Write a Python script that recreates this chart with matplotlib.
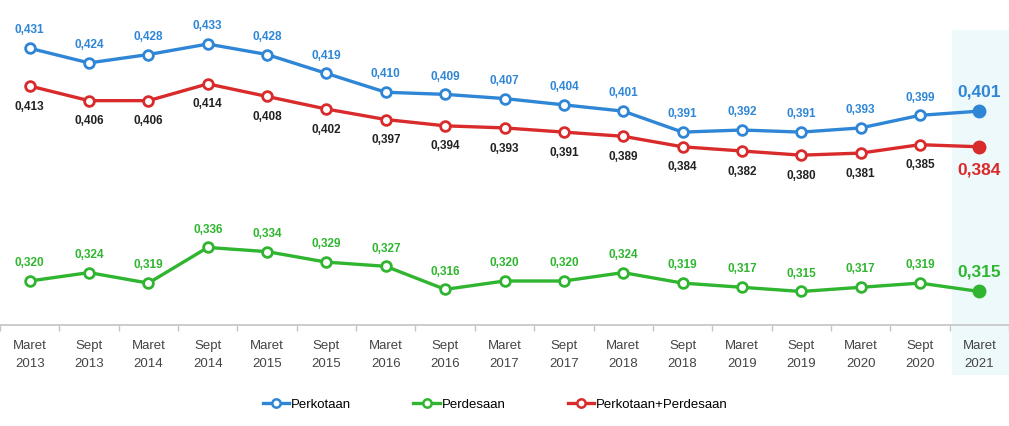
import matplotlib
matplotlib.use("Agg")
import matplotlib.pyplot as plt
from matplotlib.patches import Rectangle
from matplotlib.lines import Line2D

plt.rcParams['font.family'] = ['Liberation Sans', 'DejaVu Sans']

periods = ["Maret\n2013", "Sept\n2013", "Maret\n2014", "Sept\n2014", "Maret\n2015",
           "Sept\n2015", "Maret\n2016", "Sept\n2016", "Maret\n2017", "Sept\n2017",
           "Maret\n2018", "Sept\n2018", "Maret\n2019", "Sept\n2019", "Maret\n2020",
           "Sept\n2020", "Maret\n2021"]
perkotaan = [0.431, 0.424, 0.428, 0.433, 0.428, 0.419, 0.410, 0.409, 0.407,
             0.404, 0.401, 0.391, 0.392, 0.391, 0.393, 0.399, 0.401]
gabungan = [0.413, 0.406, 0.406, 0.414, 0.408, 0.402, 0.397, 0.394, 0.393,
            0.391, 0.389, 0.384, 0.382, 0.380, 0.381, 0.385, 0.384]
perdesaan = [0.320, 0.324, 0.319, 0.336, 0.334, 0.329, 0.327, 0.316, 0.320,
             0.320, 0.324, 0.319, 0.317, 0.315, 0.317, 0.319, 0.315]

BLUE = '#2f86d6'
RED = '#d92b2b'
GREEN = '#2fb52f'

fig = plt.figure(figsize=(10.09, 4.26), dpi=100)
ax = fig.add_axes([0.0, 0.237, 1.0, 0.763])
x = list(range(len(periods)))

# highlight of the latest period
fig.patches.append(Rectangle((0.944, 0.12), 0.056, 0.81, transform=fig.transFigure,
                             facecolor='#edf9fa', edgecolor='none', zorder=-1))

series = [
    (perkotaan, BLUE, BLUE, 1, 'Perkotaan'),
    (perdesaan, GREEN, GREEN, 1, 'Perdesaan'),
    (gabungan, RED, '#222222', -1, 'Perkotaan+Perdesaan'),
]
for vals, col, lab_col, side, name in series:
    ax.plot(x[:-1], vals[:-1], color=col, lw=2.4, marker='o', ms=7,
            mfc='white', mec=col, mew=2, zorder=3)
    ax.plot(x[-2:], vals[-2:], color=col, lw=2.4, zorder=2)
    ax.plot(x[-1], vals[-1], marker='o', ms=9, color=col, zorder=4)
    for i, v in enumerate(vals[:-1]):
        ax.annotate(f"{v:.3f}".replace('.', ','), (i, v),
                    xytext=(0, 8.5 if side > 0 else -10.5),
                    textcoords='offset points', ha='center',
                    va='bottom' if side > 0 else 'top',
                    fontsize=8.5, fontweight='bold', color=lab_col)
    ax.annotate(f"{vals[-1]:.3f}".replace('.', ','), (x[-1], vals[-1]),
                xytext=(0, 8.5 if side > 0 else -11), textcoords='offset points',
                ha='center', va='bottom' if side > 0 else 'top',
                fontsize=12.5, fontweight='bold', color=col)

ax.set_xlim(-0.43, 16.47)
ax.set_ylim(0.299, 0.454)
ax.set_facecolor('none')
for s in ['top', 'right', 'left']:
    ax.spines[s].set_visible(False)
ax.spines['bottom'].set_color('#c4c4c4')
ax.spines['bottom'].set_linewidth(1.2)
ax.set_yticks([])
ax.set_xticks([i + 0.5 for i in range(-1, len(periods))], minor=False)
ax.set_xticklabels([])
ax.tick_params(axis='x', length=4, color='#c4c4c4', width=1)
ax.set_xticks(x, minor=True)
ax.set_xticklabels(periods, minor=True, fontsize=9.5, color='#444444', linespacing=1.6)
ax.tick_params(axis='x', which='minor', length=0, pad=11)

handles = [Line2D([], [], color=c, lw=2.4, marker='o', ms=6, mfc='white', mec=c, mew=1.8)
           for c in (BLUE, GREEN, RED)]
fig.legend(handles, ['Perkotaan', 'Perdesaan', 'Perkotaan+Perdesaan'],
           loc='center', bbox_to_anchor=(0.491, 0.05), ncol=3, frameon=False,
           fontsize=9.5, handlelength=2.0, handletextpad=0.15, columnspacing=4.7)

fig.savefig('out.png', dpi=100)
